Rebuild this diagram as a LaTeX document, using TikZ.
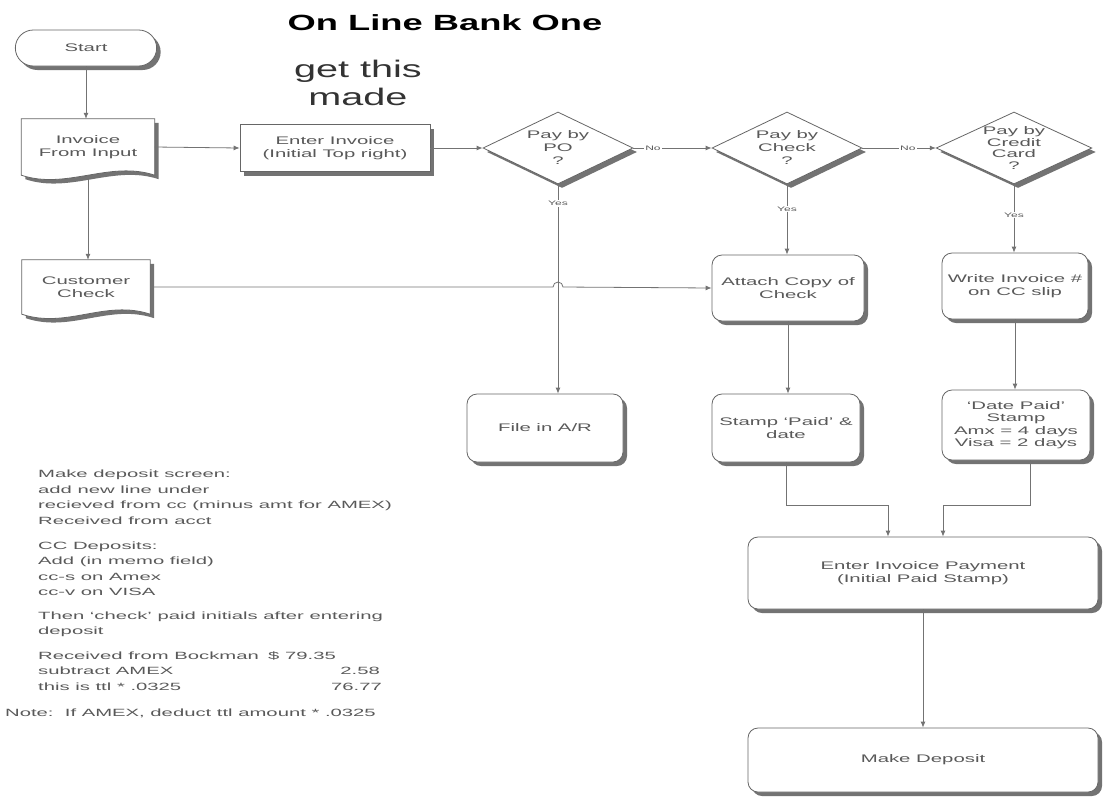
\documentclass[tikz,border=0pt]{standalone}
\usepackage{fontspec}
\setmainfont{Liberation Sans}
\newfontfamily\boxfont[FakeStretch=1.85,Ligatures=TeX]{Liberation Sans}
\newfontfamily\notefont[FakeStretch=1.93,Ligatures=TeX]{Liberation Sans}
\newfontfamily\titlefont[FakeStretch=1.65,Ligatures=TeX]{Liberation Sans}
\usetikzlibrary{shapes.geometric,shapes.misc,shadows,arrows.meta,backgrounds}

\newcommand\docshape[1]{%
  \begin{pgfonlayer}{background}
  \fill[black!55] ([shift={(4pt,-4pt)}]#1.north west) -- ([shift={(4pt,-4pt)}]#1.north east) -- ([shift={(4pt,-4pt)}]#1.south east)
     .. controls ([shift={(-41pt,11pt)}]#1.south east) and ([shift={(49pt,-19pt)}]#1.south west) .. ([shift={(4pt,-4pt)}]#1.south west) -- cycle;
  \filldraw[fill=white,draw=black!60,line width=0.8pt] (#1.north west) -- (#1.north east) -- (#1.south east)
     .. controls ([shift={(-45pt,15pt)}]#1.south east) and ([shift={(45pt,-15pt)}]#1.south west) .. (#1.south west) -- cycle;
  \end{pgfonlayer}}

\begin{document}
\begin{tikzpicture}[x=1pt,y=-1pt,
  line/.style={draw=black!55, line width=0.8pt},
  arr/.style={line, -{Latex[length=6pt,width=5pt]}},
  boxtext/.style={align=center, font=\boxfont\fontsize{11}{13}\selectfont, text=black!65},
  shad/.style={drop shadow={shadow xshift=4pt, shadow yshift=-4pt, fill=black!55, opacity=1}},
  proc/.style={rectangle, rounded corners=10pt, draw=black!60, fill=white, line width=0.8pt, shad, boxtext, inner sep=1pt},
  decision/.style={diamond, aspect=2.2, inner sep=0pt, draw=black!60, fill=white, line width=0.8pt, shad, boxtext, minimum width=150pt, minimum height=72pt},
  doc/.style={rectangle, boxtext, inner sep=0pt},
  lbl/.style={fill=white, inner sep=1pt, font=\boxfont\fontsize{6.5}{7}\selectfont, text=black!65},
  note/.style={anchor=base west, font=\notefont\fontsize{10.5}{15.5}\selectfont, text=black!65, inner sep=0pt}
]
\useasboundingbox (0,0) rectangle (1103,796);

% title
\node[font=\titlefont\fontsize{22}{26}\bfseries\selectfont] (title) at (445,23) {On Line Bank One};
\node[align=center, font=\titlefont\fontsize{24}{28}\selectfont, text=black!80] (made) at (358,83) {get this\\made};

% nodes
\node[rounded rectangle, draw=black!60, fill=white, line width=0.8pt, shad, boxtext, minimum width=148pt, minimum height=36pt] (start) at (86,48) {Start};
\node[doc, minimum width=133pt, minimum height=56pt] (inv) at (88,147) {Invoice\\From Input};
\docshape{inv}
\node[rectangle, draw=black!60, fill=white, line width=0.8pt, shad, boxtext, minimum width=190pt, minimum height=47pt] (enter) at (335,148) {Enter Invoice\\(Initial Top right)};
\node[decision] (po) at (558,148) {Pay by\\PO\\?};
\node[decision] (check) at (787,148) {Pay by\\Check\\?};
\node[decision, font=\boxfont\fontsize{11}{11.5}\selectfont] (cc) at (1014,148) {Pay by\\Credit\\Card\\?};
\node[doc, minimum width=128pt, minimum height=54pt] (cust) at (86,287) {Customer\\Check};
\docshape{cust}
\node[proc, minimum width=152pt, minimum height=66pt] (attach) at (788,288) {Attach Copy of\\Check};
\node[proc, minimum width=146pt, minimum height=66pt] (write) at (1015,286) {Write Invoice \#\\on CC slip};
\node[proc, minimum width=156pt, minimum height=68pt] (file) at (545,428) {File in A/R};
\node[proc, minimum width=148pt, minimum height=68pt] (stamp) at (786,428) {Stamp `Paid' \&\\date};
\node[proc, minimum width=148pt, minimum height=70pt, font=\boxfont\fontsize{11}{12.5}\selectfont] (datepaid) at (1016,425) {`Date Paid'\\Stamp\\Amx = 4 days\\Visa = 2 days};
\node[proc, minimum width=350pt, minimum height=72pt] (payment) at (923,573) {Enter Invoice Payment\\(Initial Paid Stamp)};
\node[proc, minimum width=350pt, minimum height=64pt] (deposit) at (923,760) {Make Deposit};

% notes
\node[note] (n1a) at (38,477) {Make deposit screen:};
\node[note] (n1b) at (38,493) {add new line under};
\node[note] (n1c) at (38,508.5) {recieved from cc (minus amt for AMEX)};
\node[note] (n1d) at (38,524) {Received from acct};
\node[note] (n2a) at (38,549) {CC Deposits:};
\node[note] (n2b) at (38,564.5) {Add (in memo field)};
\node[note] (n2c) at (38,580) {cc-s on Amex};
\node[note] (n2d) at (38,595.5) {cc-v on VISA};
\node[note] (n3a) at (38,619) {Then `check' paid initials after entering};
\node[note] (n3b) at (38,634.5) {deposit};
\node[note] (n4a) at (38,659) {Received from Bockman};
\node[note] (n4b) at (38,674.5) {subtract AMEX};
\node[note] (n4c) at (38,690) {this is ttl * .0325};
\node[note] (v1) at (268,659) {\$ 79.35};
\node[note, anchor=base east] (v2) at (380,674.5) {2.58};
\node[note, anchor=base east] (v3) at (382,690) {76.77};
\node[note] (n6) at (5,716) {Note:\ \ If AMEX, deduct ttl amount * .0325};

% connectors
\draw[arr] (start.south) -- (start.south |- inv.north);
\draw[arr] (inv.south) -- (inv.south |- cust.north);
\draw[arr] (inv.east) -- (enter.west);
\draw[arr] (enter.east) -- (po.west);
\draw[arr] (po.east) -- node[lbl, pos=0.25] {No} (check.west);
\draw[arr] (check.east) -- node[lbl, pos=0.62] {No} (cc.west);
\draw[arr] (po.south) -- node[lbl, pos=0.09] {Yes} (po.south |- file.north);
\draw[arr] (check.south) -- node[lbl, pos=0.35] {Yes} (check.south |- attach.north);
\draw[arr] (cc.south) -- node[lbl, pos=0.45] {Yes} (cc.south |- write.north);
\draw[arr] (cust.east) -- (553,287) arc[start angle=180, end angle=360, radius=5] -- (attach.west);
\draw[arr] (attach.south) -- (attach.south |- stamp.north);
\draw[arr] (write.south) -- (write.south |- datepaid.north);
\draw[arr] (stamp.south) -- ++(0,43) -| ([xshift=-35pt]payment.north);
\draw[arr] ([xshift=14pt]datepaid.south) -- ++(0,45) -| ([xshift=20pt]payment.north);
\draw[arr] (payment.south) -- (deposit.north);
\end{tikzpicture}
\end{document}
